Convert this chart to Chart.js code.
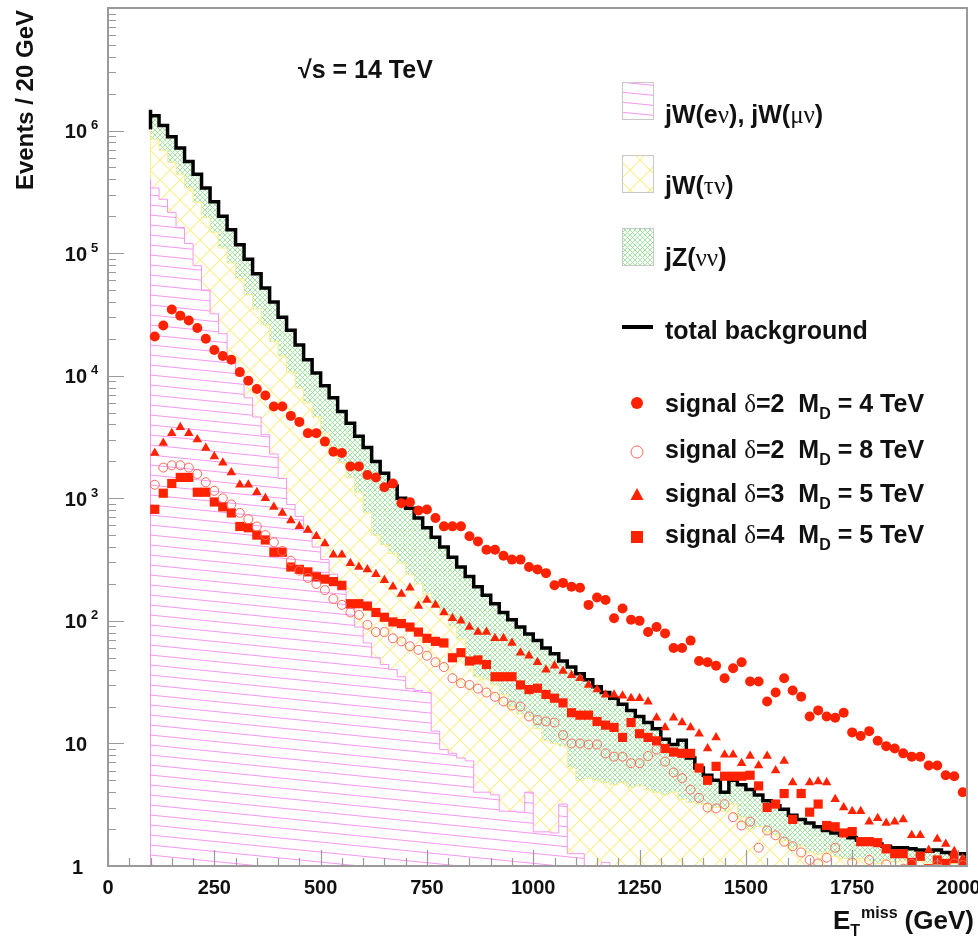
<!DOCTYPE html>
<html>
<head>
<meta charset="utf-8">
<script src="https://cdn.jsdelivr.net/npm/chart.js@4.4.1/dist/chart.umd.min.js"></script>
<style>
  html, body { margin: 0; padding: 0; background: #fff; }
  canvas { display: block; }
</style>
</head>
<body>
<canvas id="metChart" width="978" height="937" style="width:978px;height:937px"></canvas>
<script>
// 20 GeV bins from 100 GeV up to 2020 GeV
const binStart = 100;
const binWidth = 20;

// stacked background: top of jW(e/mu nu), top of jW(e/mu nu)+jW(tau nu), total
const stackLepW = [
  4.0e5, 3.4e5, 2.75e5, 2.15e5, 1.62e5, 1.2e5, 7.9e4, 5.0e4, 3.2e4, 2.2e4,
  1.4e4, 1.0e4, 6600, 4600, 3300, 2300, 1450, 890, 710, 525,
  400, 316, 240, 178, 126, 89, 66, 50, 44, 40,
  35, 28, 27, 26, 12.6, 8.9, 8.3, 7.6, 7.2, 4.0,
  4.0, 3.8, 2.8, 2.8, 2.75, 4.0, 1.9, 1.9, 1.86, 3.2,
  1.26, 1.26, 0, 0, 1.07, 0, 0, 0, 0, 0,
  0, 0, 0, 0, 0, 0, 0, 0, 0, 0,
  0, 0, 0, 0, 0, 0, 0, 0, 0, 0,
  0, 0, 0, 0, 0, 0, 0, 0, 0, 0,
  0, 0, 0, 0, 0, 0
];
const stackLepTauW = [
  1.02e6, 8.5e5, 6.9e5, 5.5e5, 4.4e5, 3.4e5, 2.6e5, 1.95e5, 1.48e5, 1.10e5,
  8.3e4, 6.2e4, 4.6e4, 3.5e4, 2.6e4, 1.9e4, 1.45e4, 1.07e4, 7900, 6000,
  4600, 3400, 2600, 1950, 1480, 1120, 760, 500, 420, 355,
  295, 240, 200, 166, 138, 115, 91, 71, 50, 35,
  33, 30, 25, 20, 17.4, 16.6, 13.2, 10.5, 10.0, 9.5,
  6.3, 5.0, 5.2, 5.0, 4.8, 4.6, 4.8, 4.4, 4.5, 4.2,
  4.0, 3.8, 4.0, 3.5, 3.3, 3.2, 3.2, 3.0, 2.8, 3.2,
  2.5, 2.0, 2.1, 1.9, 1.8, 1.6, 1.4, 1.45, 1.3, 1.25,
  1.3, 1.2, 1.15, 1.12, 1.15, 1.1, 1.05, 1.12, 1.08, 1.1,
  1.05, 1.1, 1.06, 1.04, 1.08, 1.05
];
const totalBackground = [
  1.48e6, 1.32e6, 1.10e6, 8.9e5, 7.2e5, 5.6e5, 4.4e5, 3.4e5, 2.63e5, 2.0e5,
  1.55e5, 1.17e5, 8.9e4, 6.8e4, 5.2e4, 4.0e4, 3.0e4, 2.35e4, 1.78e4, 1.35e4,
  1.05e4, 8300, 6600, 5100, 4100, 3200, 2600, 2000, 1600, 1260,
  1000, 830, 690, 575, 480, 400, 330, 275, 230, 190,
  162, 138, 117, 102, 89, 78, 69, 60, 54, 47,
  42, 37, 33, 29, 26, 23.4, 20.9, 18.6, 16.6, 14.8,
  13.2, 10.8, 9.8, 10.6, 7.6, 6.3, 5.5, 5.0, 4.0, 5.0,
  4.6, 4.2, 3.8, 3.4, 3.1, 2.9, 2.6, 2.4, 2.24, 2.09,
  1.95, 1.86, 1.78, 1.70, 1.62, 1.58, 1.51, 1.45, 1.41, 1.41,
  1.38, 1.35, 1.32, 1.35, 1.29, 1.26
];

// signal samples, one value per bin
const sigD2M4 = [
  20900, 25700, 34700, 30900, 28200, 24500, 20000, 16200, 14500, 13500,
  10700, 9100, 7800, 6900, 5600, 5600, 4700, 4200, 3400, 3400,
  2900, 2400, 2340, 1820, 1820, 1550, 1480, 1230, 1320, 910,
  930, 795, 810, 690, 590, 590, 590, 490, 445, 380,
  380, 340, 316, 316, 275, 263, 245, 195, 204, 190,
  186, 135, 155, 148, 105, 126, 102, 100, 81, 89,
  79, 60, 60, 69, 47, 46, 43, 34, 41, 46,
  32, 32, 22, 26, 34, 27, 24, 16.6, 18.6, 16.6,
  16.2, 17.8, 12.3, 11.5, 12.6, 10.5, 9.5, 9.1, 8.3, 7.8,
  7.8, 6.6, 6.6, 5.5, 5.4, 4.0
];
const sigD2M8 = [
  1290, 1780, 1860, 1860, 1780, 1580, 1350, 1150, 1000, 890,
  760, 676, 589, 501, 437, 372, 309, 257, 224, 200,
  178, 151, 135, 117, 112, 93, 81, 81, 72, 68,
  62, 58, 52, 46, 42, 34, 31, 30, 28, 26,
  24, 22, 20.4, 20, 16.6, 15.5, 15.1, 14.8, 11.7, 10,
  10, 9.8, 9.8, 8.3, 7.8, 7.8, 6.9, 6.9, 7.9, 8.9,
  7.1, 5.8, 5.2, 4.2, 3.6, 3.0, 2.95, 3.2, 2.5, 2.14,
  2.3, 1.41, 1.95, 1.78, 1.58, 1.45, 1.29, 1.12, 1.05, 1.17,
  1.41, 0.9, 1.07, 0.8, 1.12, 0.9, 1.03, 0.85, 0.95, 1.04,
  0.8, 0.9, 1.02, 0.85, 1.05, 1.02
];
const sigD3M5 = [
  2340, 2820, 3390, 3800, 3390, 3020, 2570, 2190, 1950, 1620,
  1290, 1290, 1120, 1000, 850, 760, 660, 590, 550, 490,
  427, 347, 347, 295, 275, 263, 240, 214, 190, 166,
  186, 132, 148, 135, 117, 105, 100, 89, 81, 81,
  72, 72, 66, 55, 52, 46, 40, 43, 39, 36,
  34, 30, 27.5, 25, 25, 24.5, 23.4, 23.4, 21.9, 16.2,
  13.5, 16.2, 14.8, 13.5, 12.0, 9.1, 11.2, 8.1, 8.1, 6.9,
  7.9, 6.6, 7.9, 6.0, 7.2, 4.8, 3.9, 4.8, 4.9, 4.8,
  3.5, 3.0, 2.8, 2.8, 2.3, 2.45, 2.24, 2.3, 2.4, 1.78,
  1.78, 1.35, 1.66, 1.51, 1.32, 1.15
];
const sigD4M5 = [
  813, 1100, 1320, 1480, 1480, 1120, 1120, 933, 851, 759,
  589, 575, 501, 457, 363, 363, 275, 263, 251, 229,
  219, 209, 195, 138, 138, 132, 117, 107, 98, 95,
  89, 81, 72, 68, 66, 50, 55, 47, 48, 44,
  35, 35, 35, 30, 27.5, 28.2, 25.1, 23.4, 21.4, 17.8,
  17.0, 17.0, 15.1, 14.1, 13.5, 11.2, 14.8, 12.0, 11.2, 10.5,
  9.1, 8.5, 8.3, 8.3, 6.3, 5.0, 6.5, 5.4, 5.4, 5.4,
  5.5, 4.5, 3.0, 3.2, 3.9, 2.4, 3.9, 2.75, 3.2, 2.14,
  2.09, 1.86, 1.91, 1.58, 1.58, 1.55, 1.38, 1.26, 1.26, 1.07,
  1.2, 0.95, 1.12, 1.05, 1.15, 1.02
];

// axis settings
const xMin = 0, xMax = 2020;
const yMin = 1, yMax = 1e7;
const xMajorStep = 250, xMinorStep = 50;
const xTickLabels = ['0', '250', '500', '750', '1000', '1250', '1500', '1750', '2000'];
const yDecades = [0, 1, 2, 3, 4, 5, 6];

const sigColor = '#ff2200';
const openColor = '#ff6a5a';
const frameColor = '#9a9a9a';
const sans = '"Liberation Sans", Arial, sans-serif';
const serif = '"Liberation Serif", "Times New Roman", serif';

const canvas = document.getElementById('metChart');
const ctx = canvas.getContext('2d');

// hatch fills on a white ground, like the ROOT fill styles
function hatch(w, h, color, lw, drawLines) {
  const c = document.createElement('canvas');
  c.width = w; c.height = h;
  const g = c.getContext('2d');
  g.fillStyle = '#fff';
  g.fillRect(0, 0, w, h);
  g.strokeStyle = color;
  g.lineWidth = lw;
  g.beginPath();
  drawLines(g, w, h);
  g.stroke();
  return ctx.createPattern(c, 'repeat');
}
function crossLines(g, w, h) {
  for (let k = -1; k <= 1; k++) {
    g.moveTo(k * w, 0); g.lineTo(k * w + w, h);
    g.moveTo(k * w, h); g.lineTo(k * w + w, 0);
  }
}
const pinkFill = hatch(100, 10, 'rgb(245,150,240)', 1, (g, w, h) => {
  for (let k = -1; k <= 1; k++) { g.moveTo(0, k * h); g.lineTo(w, k * h + h); }
});
const yellowFill = hatch(20, 20, 'rgb(250,238,140)', 1.1, crossLines);
const greenFill = hatch(5, 5, 'rgb(150,226,150)', 0.9, crossLines);

const floorVal = 0.5;  // empty bins sit below the axis
// step outline: left edge rises from `base`, right edge drops to the floor
function histPoints(vals, base) {
  const pts = [{ x: binStart, y: Math.max(base, floorVal) }];
  vals.forEach((v, i) => pts.push({ x: binStart + i * binWidth, y: Math.max(v, floorVal) }));
  const end = binStart + vals.length * binWidth;
  pts.push({ x: end, y: Math.max(vals[vals.length - 1], floorVal) });
  pts.push({ x: end, y: floorVal });
  return pts;
}
function markerPoints(vals) {
  return vals.map((v, i) => ({ x: binStart + (i + 0.5) * binWidth, y: v }));
}

function histSet(label, pts, fill, border, width, order) {
  return {
    label, data: pts, stepped: 'after', fill: 'start',
    backgroundColor: fill, borderColor: border, borderWidth: width,
    pointRadius: 0, order
  };
}
function markerSet(label, vals, style, radius, bg, border, bw) {
  return {
    label, data: markerPoints(vals), showLine: false,
    pointStyle: style, pointRadius: radius,
    pointBackgroundColor: bg, pointBorderColor: border, pointBorderWidth: bw,
    order: 0
  };
}

function richText(c, x, y, parts, size) {
  let cx = x;
  parts.forEach(p => {
    let dy = 0;
    if (p.g) c.font = `${size}px ${serif}`;
    else if (p.sub) { c.font = `bold ${Math.round(size * 0.62)}px ${sans}`; dy = size * 0.28; }
    else if (p.sup) { c.font = `bold ${Math.round(size * 0.62)}px ${sans}`; dy = -size * 0.42; }
    else c.font = `bold ${size}px ${sans}`;
    c.fillText(p.t, cx, y + dy);
    cx += c.measureText(p.t).width;
  });
  return cx;
}

const rootFrame = {
  id: 'rootFrame',
  afterDraw(chart) {
    const c = chart.ctx;
    const a = chart.chartArea;
    const xs = chart.scales.x, ys = chart.scales.y;
    c.save();

    // frame
    c.strokeStyle = frameColor;
    c.lineWidth = 2;
    c.strokeRect(a.left, a.top, a.right - a.left, a.bottom - a.top);

    // x ticks
    c.lineWidth = 1.2;
    c.beginPath();
    for (let v = xMin; v <= xMax; v += xMinorStep) {
      const px = Math.round(xs.getPixelForValue(v)) + 0.5;
      const len = v % xMajorStep === 0 ? 16 : 8;
      c.moveTo(px, a.bottom); c.lineTo(px, a.bottom - len);
    }
    // y ticks
    yDecades.forEach(d => {
      for (let k = 1; k <= 9; k++) {
        const py = Math.round(ys.getPixelForValue(k * Math.pow(10, d))) + 0.5;
        const len = k === 1 ? 16 : 8;
        c.moveTo(a.left, py); c.lineTo(a.left + len, py);
      }
    });
    c.stroke();

    // tick labels
    c.fillStyle = '#111';
    c.font = `bold 20px ${sans}`;
    c.textAlign = 'center';
    c.textBaseline = 'middle';
    xTickLabels.forEach(t => c.fillText(t, xs.getPixelForValue(Number(t)), 888));
    c.textAlign = 'right';
    yDecades.forEach(d => {
      const py = ys.getPixelForValue(Math.pow(10, d)) + 2;
      c.font = `bold 20px ${sans}`;
      if (d === 0) { c.fillText('1', 83, py); return; }
      c.fillText('10', 87, py);
      if (d > 1) {
        c.textAlign = 'left';
        c.font = `bold 13px ${sans}`;
        c.fillText(String(d), 91, py - 7);
        c.textAlign = 'right';
      }
    });

    // axis titles
    c.textBaseline = 'alphabetic';
    c.save();
    c.translate(33, 10);
    c.rotate(-Math.PI / 2);
    c.textAlign = 'right';
    c.font = `bold 24px ${sans}`;
    c.fillText('Events / 20 GeV', 0, 0);
    c.restore();

    c.textAlign = 'left';
    let cx = richText(c, 833, 929, [{ t: 'E' }], 26);
    cx = richText(c, cx, 929, [{ t: 'T', sub: true }], 26);
    cx = richText(c, cx + 1, 929, [{ t: 'miss', sup: true }], 26);
    richText(c, cx + 7, 929, [{ t: '(GeV)' }], 26);

    c.font = `bold 25px ${sans}`;
    c.fillText('\u221As = 14 TeV', 298, 78);

    // legend
    const bx = 622, bw = 31, tx = 665, fs = 25;
    [[pinkFill, 82], [yellowFill, 155], [greenFill, 228]].forEach(([pat, top]) => {
      c.fillStyle = pat;
      c.fillRect(bx, top, bw, 37);
      c.strokeStyle = '#c8c8c8';
      c.lineWidth = 1;
      c.strokeRect(bx + 0.5, top + 0.5, bw, 37);
    });
    c.fillStyle = '#111';
    richText(c, tx, 123, [{ t: 'jW(e' }, { t: '\u03BD', g: true }, { t: '), jW(' }, { t: '\u03BC\u03BD', g: true }, { t: ')' }], fs);
    richText(c, tx, 194, [{ t: 'jW(' }, { t: '\u03C4\u03BD', g: true }, { t: ')' }], fs);
    richText(c, tx, 266, [{ t: 'jZ(' }, { t: '\u03BD\u03BD', g: true }, { t: ')' }], fs);

    c.strokeStyle = '#000';
    c.lineWidth = 4;
    c.beginPath(); c.moveTo(bx, 327); c.lineTo(bx + bw, 327); c.stroke();
    richText(c, tx, 339, [{ t: 'total background' }], fs);

    const sigRows = [
      ['circle', '2', '4', 403, 412],
      ['open', '2', '8', 452, 458],
      ['triangle', '3', '5', 495, 502],
      ['square', '4', '5', 537, 543]
    ];
    sigRows.forEach(([shape, delta, md, my, base]) => {
      const mx = 637;
      c.beginPath();
      if (shape === 'circle' || shape === 'open') c.arc(mx, my, 6, 0, Math.PI * 2);
      else if (shape === 'triangle') { c.moveTo(mx, my - 7); c.lineTo(mx + 6.5, my + 5); c.lineTo(mx - 6.5, my + 5); c.closePath(); }
      else c.rect(mx - 6, my - 6, 12, 12);
      if (shape === 'open') { c.strokeStyle = openColor; c.lineWidth = 1; c.stroke(); }
      else { c.fillStyle = sigColor; c.fill(); }
      c.fillStyle = '#111';
      richText(c, tx, base, [
        { t: 'signal ' }, { t: '\u03B4', g: true }, { t: '=' + delta + '  M' },
        { t: 'D', sub: true }, { t: ' = ' + md + ' TeV' }
      ], fs);
    });

    c.restore();
  }
};

new Chart(ctx, {
  type: 'line',
  data: {
    datasets: [
      markerSet('signal d=2 MD=4 TeV', sigD2M4, 'circle', 5, sigColor, sigColor, 0),
      markerSet('signal d=2 MD=8 TeV', sigD2M8, 'circle', 4.5, 'rgba(0,0,0,0)', openColor, 1),
      markerSet('signal d=3 MD=5 TeV', sigD3M5, 'triangle', 5.5, sigColor, sigColor, 0),
      markerSet('signal d=4 MD=5 TeV', sigD4M5, 'rect', 6.5, sigColor, sigColor, 0),
      histSet('jW(e nu), jW(mu nu)', histPoints(stackLepW, floorVal), pinkFill, 'rgb(245,150,240)', 1, 1),
      histSet('jW(tau nu)', histPoints(stackLepTauW, stackLepW[0]), yellowFill, 'rgb(250,238,140)', 1, 2),
      histSet('total background', histPoints(totalBackground, stackLepTauW[0]), greenFill, '#000', 3.5, 3)
    ]
  },
  options: {
    responsive: false,
    devicePixelRatio: 1,
    animation: false,
    events: [],
    layout: { padding: { left: 108, top: 8, right: 11, bottom: 71 } },
    scales: {
      x: { type: 'linear', min: xMin, max: xMax, display: false },
      y: { type: 'logarithmic', min: yMin, max: yMax, display: false }
    },
    plugins: {
      legend: { display: false },
      tooltip: { enabled: false }
    }
  },
  plugins: [rootFrame]
});
</script>
</body>
</html>
